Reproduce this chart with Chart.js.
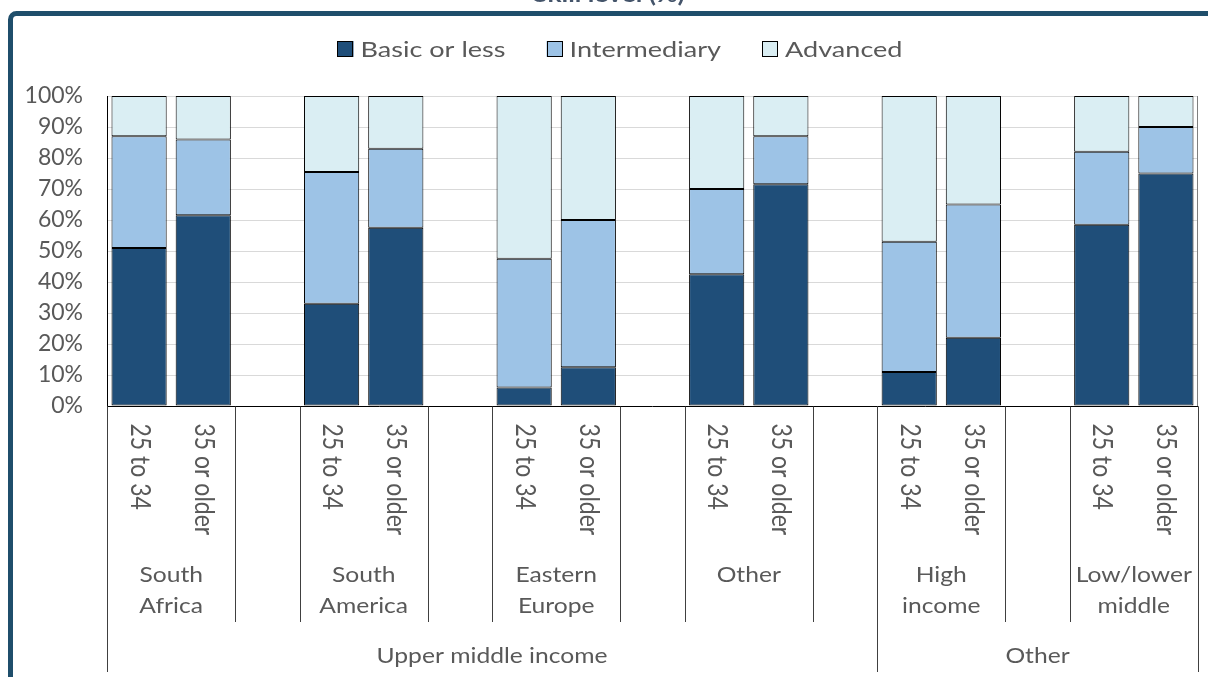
<!DOCTYPE html>
<html lang="en">
<head>
    <meta charset="UTF-8">
    <title>Skill level by age group and region</title>
    <style>
        body {
            margin: 0;
            padding: 0;
            background-color: #ffffff;
        }
        .chart-container {
            position: relative;
            width: 1208px;
            height: 677px;
        }
    </style>
</head>
<body>

<div class="chart-container">
    <canvas id="skillChart"></canvas>
</div>

<script src="https://cdn.jsdelivr.net/npm/chart.js"></script>
<script>
    // Age bands shown under every bar pair
    var ageLabels = ['25 to 34', '35 or older'];
    // Regions / income groups (second label row)
    var groupLabels = [['South', 'Africa'], ['South', 'America'], ['Eastern', 'Europe'], ['Other'], ['High', 'income'], ['Low/lower', 'middle']];
    // Top label row and which group each one starts at
    var bandLabels = ['Upper middle income', 'Other'];
    var bandStart = [0, 4];

    // Share of respondents per skill level (%), two values per group: 25 to 34, 35 or older
    var basicOrLess = [51, 61.5, 33, 57.5, 6, 12.5, 42.5, 71.5, 11, 22, 58.5, 75];
    var intermediary = [36, 24.5, 42.5, 25.5, 41.5, 47.5, 27.5, 15.5, 42, 43, 23.5, 15];
    var advanced = [13, 14, 24.5, 17, 52.5, 40, 30, 13, 47, 35, 18, 10];

    var yTicks = [0, 10, 20, 30, 40, 50, 60, 70, 80, 90, 100];

    var textColor = '#595959';
    var fontFamily = 'Lato, "Open Sans", sans-serif';

    // Build the category list: two bars per group with an empty slot between groups
    var categories = [];
    var groupSlot = []; // first slot index of every group
    groupLabels.forEach(function (g, i) {
        if (i > 0) categories.push('');
        groupSlot.push(categories.length);
        ageLabels.forEach(function (a) { categories.push(a); });
    });

    function spread(values) {
        var out = [];
        var k = 0;
        categories.forEach(function (c) {
            out.push(c === '' ? null : values[k++]);
        });
        return out;
    }

    // text drawn slightly widened, like the original export
    function wideText(ctx, text, x, y, sx, align) {
        var w = ctx.measureText(text).width * sx;
        var left = align === 'center' ? x - w / 2 : x;
        ctx.save();
        ctx.translate(left, y);
        ctx.scale(sx, 1);
        ctx.textAlign = 'left';
        ctx.fillText(text, 0, 0);
        ctx.restore();
        return w;
    }

    // Draws frame, title, legend and the multi-level category axis
    var decorations = {
        id: 'decorations',
        afterDraw: function (chart) {
            var ctx = chart.ctx;
            var area = chart.chartArea;
            var x = chart.scales.x;
            var slot = (area.right - area.left) / categories.length;
            var axisY = Math.round(area.bottom) + 0.5;

            ctx.save();

            // outer frame
            ctx.strokeStyle = '#1F4E6B';
            ctx.lineWidth = 5;
            ctx.beginPath();
            ctx.roundRect(10.5, 13.5, 1400, 900, 6);
            ctx.stroke();

            // chart title (mostly above the visible area)
            ctx.fillStyle = '#44546A';
            ctx.font = 'bold 22px ' + fontFamily;
            ctx.textBaseline = 'alphabetic';
            wideText(ctx, 'Skill level (%)', 609, 2, 1.2, 'center');

            // legend
            ctx.font = '22px ' + fontFamily;
            var items = chart.data.datasets;
            var box = 16, boxGap = 7, itemGap = 41, sx = 1.23;
            var total = 0;
            items.forEach(function (d, i) {
                total += box + boxGap + ctx.measureText(d.label).width * sx + (i < items.length - 1 ? itemGap : 0);
            });
            var lx = 620 - total / 2;
            var ly = 49;
            ctx.textBaseline = 'middle';
            items.forEach(function (d) {
                ctx.fillStyle = d.backgroundColor;
                ctx.fillRect(lx, ly - 8, box, box);
                ctx.strokeStyle = '#000';
                ctx.lineWidth = 1;
                ctx.strokeRect(Math.round(lx) + 0.5, ly - 7.5, box - 1, box - 1);
                ctx.fillStyle = textColor;
                var w = wideText(ctx, d.label, lx + box + boxGap, ly + 1, sx, 'left');
                lx += box + boxGap + w + itemGap;
            });

            // plot area: right border and category axis line
            ctx.strokeStyle = '#7F7F7F';
            ctx.lineWidth = 1;
            ctx.beginPath();
            ctx.moveTo(Math.round(area.right) - 0.5, area.top);
            ctx.lineTo(Math.round(area.right) - 0.5, area.bottom);
            ctx.stroke();

            ctx.strokeStyle = '#000';
            ctx.beginPath();
            ctx.moveTo(area.left, axisY);
            ctx.lineTo(area.right, axisY);
            ctx.stroke();

            // rotated age labels
            ctx.fillStyle = textColor;
            ctx.font = '23px ' + fontFamily;
            categories.forEach(function (c, i) {
                if (c === '') return;
                var cx = x.getPixelForValue(i);
                ctx.save();
                ctx.translate(cx, axisY + 17);
                ctx.scale(1.15, 1);
                ctx.rotate(Math.PI / 2);
                ctx.textAlign = 'left';
                ctx.textBaseline = 'middle';
                ctx.fillText(c, 0, 0);
                ctx.restore();
            });

            // group separators and group names
            var groupLineEnd = 622;
            var bandLineEnd = 672;
            ctx.font = '22px ' + fontFamily;
            ctx.strokeStyle = '#404040';
            ctx.textBaseline = 'middle';
            groupLabels.forEach(function (g, i) {
                var left = area.left + groupSlot[i] * slot;
                var right = left + ageLabels.length * slot;
                [left, right].forEach(function (px) {
                    px = Math.round(px) + 0.5;
                    ctx.beginPath();
                    ctx.moveTo(px, axisY);
                    ctx.lineTo(px, groupLineEnd);
                    ctx.stroke();
                });
                var cx = (left + right) / 2;
                g.forEach(function (line, j) {
                    wideText(ctx, line, cx, 575 + j * 31, 1.12, 'center');
                });
            });

            // income bands (top level of the axis)
            bandLabels.forEach(function (b, i) {
                var left = area.left + groupSlot[bandStart[i]] * slot;
                var right = i < bandLabels.length - 1 ? area.left + groupSlot[bandStart[i + 1]] * slot : area.right;
                [left, right].forEach(function (px) {
                    px = Math.round(px) + 0.5;
                    ctx.beginPath();
                    ctx.moveTo(px, axisY);
                    ctx.lineTo(px, bandLineEnd);
                    ctx.stroke();
                });
                wideText(ctx, b, (left + right) / 2, 656, 1.12, 'center');
            });

            ctx.restore();
        }
    };

    var ctx = document.getElementById('skillChart').getContext('2d');
    var skillChart = new Chart(ctx, {
        type: 'bar',
        data: {
            labels: categories,
            datasets: [{
                label: 'Basic or less',
                data: spread(basicOrLess),
                backgroundColor: '#1F4E79'
            }, {
                label: 'Intermediary',
                data: spread(intermediary),
                backgroundColor: '#9DC3E6'
            }, {
                label: 'Advanced',
                data: spread(advanced),
                backgroundColor: '#DAEEF3'
            }]
        },
        options: {
            responsive: true,
            maintainAspectRatio: false,
            animation: false,
            layout: {
                padding: { left: 0, right: 10, top: 96, bottom: 271 }
            },
            datasets: {
                bar: {
                    borderColor: '#000000',
                    borderWidth: 1,
                    borderSkipped: false,
                    barPercentage: 0.86,
                    categoryPercentage: 1.0
                }
            },
            plugins: {
                legend: { display: false },
                tooltip: { enabled: false }
            },
            scales: {
                x: {
                    stacked: true,
                    display: false
                },
                y: {
                    stacked: true,
                    min: 0,
                    max: 100,
                    afterFit: function (scale) { scale.width = 107; },
                    afterBuildTicks: function (scale) {
                        scale.ticks = yTicks.map(function (v) { return { value: v }; });
                    },
                    border: { display: true, color: '#000000', width: 1 },
                    grid: {
                        drawTicks: false,
                        color: function (c) { return c.tick && c.tick.value === 0 ? 'rgba(0,0,0,0)' : '#D9D9D9'; }
                    },
                    ticks: {
                        padding: 24,
                        color: textColor,
                        font: { family: fontFamily, size: 23 },
                        callback: function (v) { return v + '%'; }
                    }
                }
            }
        },
        plugins: [decorations]
    });
</script>

</body>
</html>
